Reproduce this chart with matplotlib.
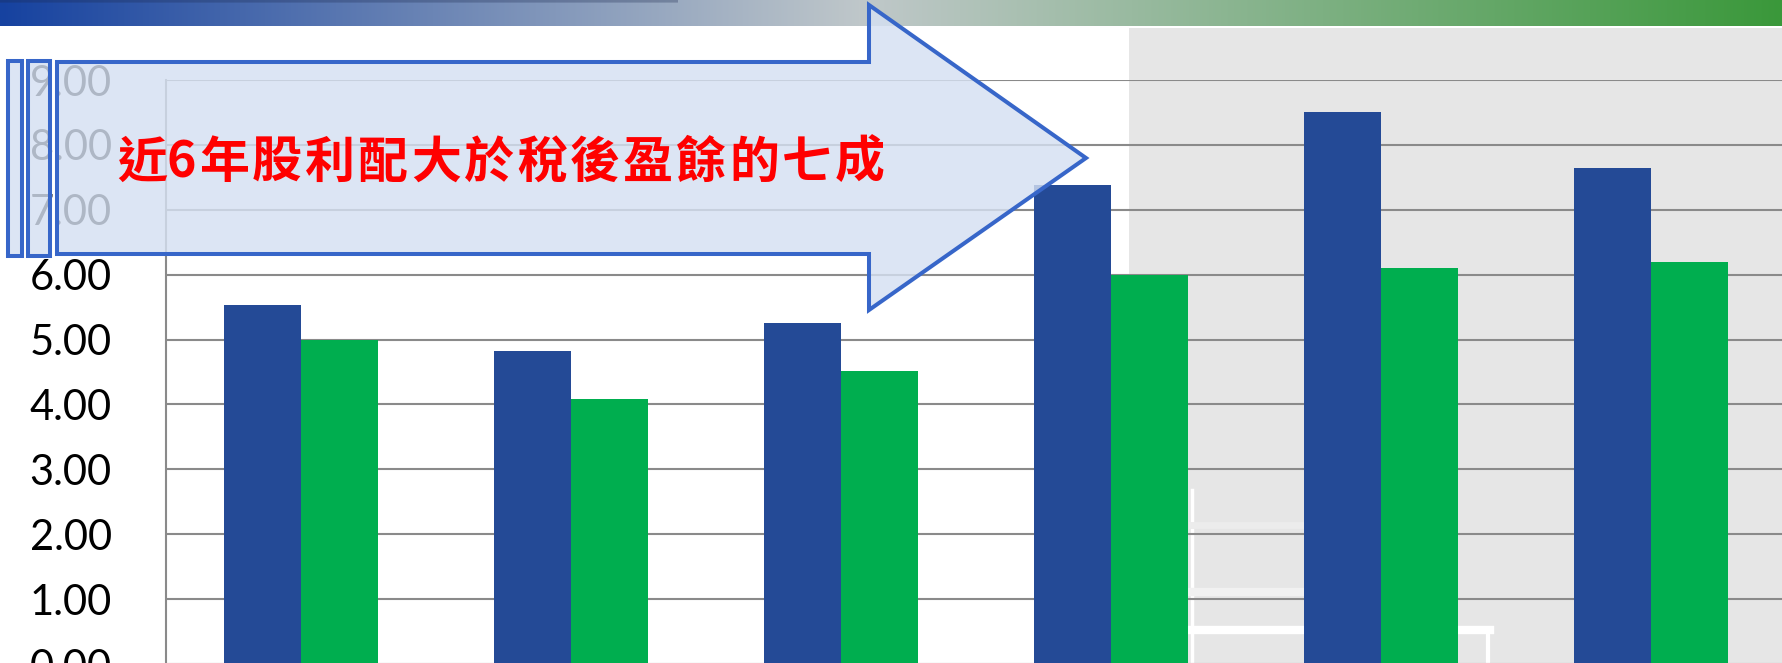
import matplotlib
matplotlib.use("Agg")
import matplotlib.pyplot as plt
from matplotlib.patches import Polygon, Rectangle
import numpy as np

W, H = 1783, 663
DPI = 100

# data (blue = 稅後盈餘, green = 股利)
years = ["Y1", "Y2", "Y3", "Y4", "Y5", "Y6"]
eps = [5.54, 4.83, 5.25, 7.38, 8.50, 7.65]
dividend = [5.00, 4.09, 4.51, 6.00, 6.10, 6.20]
y_ticks = [0, 1, 2, 3, 4, 5, 6, 7, 8, 9]
banner = "近6年股利配大於稅後盈餘的七成"

BLUE = "#244a96"
GREEN = "#00ae4f"
GRID = "#8a8a8a"
EDGE = "#3766c9"
FILL = (0.835, 0.878, 0.949, 0.82)

fig = plt.figure(figsize=(W / DPI, H / DPI), dpi=DPI)
fig.patch.set_facecolor("white")

# background layer in pixel coords (gray panel + faint watermark lines)
bg = fig.add_axes([0, 0, 1, 1], zorder=-1)
bg.set_xlim(0, W)
bg.set_ylim(H, 0)
bg.axis("off")
bg.add_patch(Rectangle((1129, 28), W - 1129, H - 28, color="#e6e6e6", lw=0))
bg.plot([1192, 1192], [490, H], color="white", lw=2.5)
bg.plot([1192, 1490], [630, 630], color="white", lw=6)
bg.plot([1488, 1488], [630, H], color="white", lw=3)
bg.plot([1192, 1310], [592, 592], color="#f1f1f1", lw=6)
bg.plot([1192, 1310], [525, 525], color="#ececec", lw=5)

# main chart
ax = fig.add_axes([166 / W, (H - 664) / H, 1620 / W, (664 - 80) / H], zorder=1)
ax.set_facecolor("none")
x = np.arange(len(years))
bw = 0.287
ax.bar(x - bw / 2, eps, width=bw, color=BLUE, zorder=3)
ax.bar(x + bw / 2, dividend, width=bw, color=GREEN, zorder=3)
ax.set_xlim(-0.5, len(years) - 0.5)
ax.set_ylim(0, 9)
ax.set_yticks(y_ticks)
ax.set_yticklabels(["%.2f" % v for v in y_ticks], fontsize=30,
                   fontfamily=["Lato", "DejaVu Sans"])
ax.tick_params(axis="y", length=0, pad=39)
ax.set_xticks([])
ax.grid(axis="y", color=GRID, lw=1.5, zorder=0)
for s in ["top", "right", "bottom"]:
    ax.spines[s].set_visible(False)
ax.spines["left"].set_color(GRID)
ax.spines["left"].set_linewidth(1.5)

# top gradient bar
top = fig.add_axes([0, 1 - 26 / H, 1, 26 / H], zorder=2)
stops = [0.0, 0.485, 1.0]
cols = np.array([[22, 66, 160], [192, 200, 202], [58, 152, 58]]) / 255.0
xs = np.linspace(0, 1, 600)
grad = np.stack([np.interp(xs, stops, cols[:, i]) for i in range(3)], axis=-1)
top.imshow(grad[np.newaxis, :, :], aspect="auto", extent=(0, 1, 0, 1))
top.set_xlim(0, 1)
top.set_ylim(0, 1)
# soft shadow along the top left
top.fill_between([0, 0.38], 0.88, 1, color="#1c2a50", alpha=0.18, lw=0)
top.fill_between([0, 0.38], 0.94, 1, color="#1c2a50", alpha=0.15, lw=0)
top.axis("off")

# arrow overlay
ov = fig.add_axes([0, 0, 1, 1], zorder=3)
ov.set_xlim(0, W)
ov.set_ylim(H, 0)
ov.axis("off")
arrow = [(57, 62), (869, 62), (869, 5), (1086, 158), (869, 310), (869, 254), (57, 254)]
ov.add_patch(Polygon(arrow, closed=True, facecolor=FILL, edgecolor=EDGE, lw=2.9))
for x0, x1 in [(8, 22), (28, 50)]:
    ov.add_patch(Rectangle((x0, 61), x1 - x0, 195, facecolor=FILL, edgecolor=EDGE, lw=2.9))

# banner text, one glyph at a time to match the wide spacing
pos = 117
for ch in banner:
    ov.text(pos, 163, ch, color="red", fontsize=36, fontweight="bold",
            family=["Noto Sans CJK TC", "DejaVu Sans"], ha="left", va="center")
    pos += 32 if ch.isdigit() else (50 if ch == "近" else 53)

fig.savefig("out.png", dpi=DPI)
